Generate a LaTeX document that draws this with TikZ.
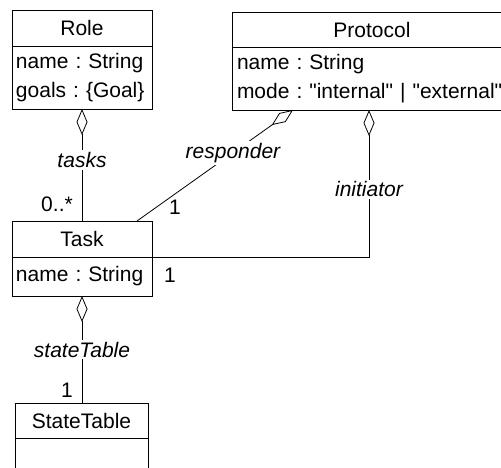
\documentclass[tikz,border=0pt]{standalone}
\usepackage{fontspec}
\setmainfont{Liberation Sans}
\newfontfamily\qfont{Liberation Sans}
\usetikzlibrary{arrows.meta}
\frenchspacing
\begin{document}
\begin{tikzpicture}[x=1pt,y=-1pt,
  font=\fontsize{21}{29}\selectfont\frenchspacing,
  every node/.style={inner sep=0pt, outer sep=0pt},
  comp/.style={draw, line width=0.8pt, rectangle, inner sep=0pt},
  lbl/.style={font=\fontsize{21}{25}\selectfont\itshape, fill=white, inner sep=2pt},
  mult/.style={font=\fontsize{21}{25}\selectfont},
  assoc/.style={line width=0.8pt},
  agg/.style={assoc, {Diamond[open,length=26pt,width=11pt]}-}
]
\useasboundingbox (0,0) rectangle (501,468);
\clip (0,0) rectangle (501,468);
% Role
\node[comp, minimum width=140pt, minimum height=36pt] (roleT) at (82,28) {Role};
\node[comp, minimum width=140pt, minimum height=63pt, anchor=north, text width=132pt, align=left] (roleA) at (roleT.south) {name : String\\goals : \{Goal\}};
% Protocol
\node[comp, minimum width=280pt, minimum height=35pt] (protT) at (372,29.5) {Protocol};
\node[comp, minimum width=280pt, minimum height=63pt, anchor=north, text width=270pt, align=left] (protA) at (protT.south) {name : String\\mode : {\qfont "internal" | "external"}};
% Task
\node[comp, minimum width=140pt, minimum height=36pt] (taskT) at (82,239) {Task};
\node[comp, minimum width=140pt, minimum height=39pt, anchor=north, text width=132pt, align=left] (taskA) at (taskT.south) {name : String};
% StateTable
\node[comp, minimum width=133pt, minimum height=35pt] (stT) at (81.5,420.5) {StateTable};
\node[comp, minimum width=133pt, minimum height=45pt, anchor=north] (stA) at (stT.south) {};
% connectors
\draw[agg] (roleA.south) -- node[lbl, pos=0.455] (ltasks) {tasks} (taskT.north);
\draw[agg] ([xshift=61pt]protA.south west) -- node[lbl, pos=0.385] (lresp) {responder} ([xshift=125pt]taskT.north west);
\draw[agg] ([xshift=137pt]protA.south west) |- node[lbl, pos=0.27] (linit) {initiator} (taskT.south east);
\draw[agg] (taskA.south) -- node[lbl, pos=0.5] (lst) {stateTable} (taskA.south |- stT.north);
% multiplicities
\node[mult] (m1) at (57,204) {0..*};
\node[mult] (m2) at (175,207) {1};
\node[mult] (m3) at (170,275) {1};
\node[mult] (m4) at (67,390) {1};
\end{tikzpicture}
\end{document}
